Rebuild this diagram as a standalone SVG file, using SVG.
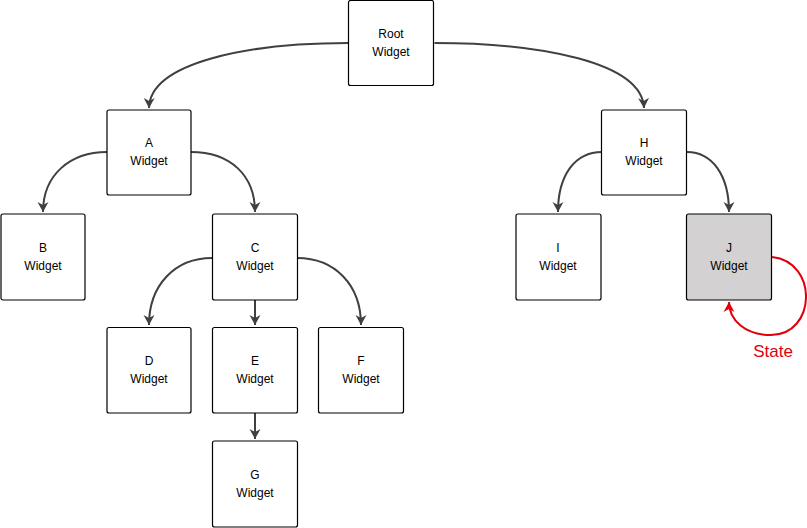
<svg xmlns="http://www.w3.org/2000/svg" width="807" height="528" viewBox="0 0 807 528">
<style>
.node rect{fill:#ffffff;stroke:#000000;stroke-width:1.2}
.node text{font-family:"Liberation Sans",Arial,sans-serif;font-size:12px;fill:#000000;text-anchor:middle}
.conn path{fill:none;stroke:#404040;stroke-width:2}
.conn path.state{stroke:#e0000b}
</style>
<defs>
<marker id="ah" markerUnits="userSpaceOnUse" markerWidth="14" markerHeight="14" viewBox="0 0 14 14" refX="11" refY="7" orient="auto">
<path d="M1,1.5 L11,7 L1,12.5 L4,7 Z" fill="#404040"/>
</marker>
<marker id="ahr" markerUnits="userSpaceOnUse" markerWidth="14" markerHeight="14" viewBox="0 0 14 14" refX="11" refY="7" orient="auto">
<path d="M1,1.5 L11,7 L1,12.5 L4,7 Z" fill="#e0000b"/>
</marker>
</defs>
<rect width="807" height="528" fill="#ffffff"/>
<g id="connectors" class="conn">
<path d="M348.5,43 C250,43 150,62 149,108" marker-end="url(#ah)"/>
<path d="M434.5,43 C540,43 642,62 644,108" marker-end="url(#ah)"/>
<path d="M107,152 C70,152 43,175 43,212" marker-end="url(#ah)"/>
<path d="M191,152 C230,152 255,175 255,212" marker-end="url(#ah)"/>
<path d="M212,258 C175,258 149,285 149,325" marker-end="url(#ah)"/>
<path d="M255,300 L255,325" marker-end="url(#ah)"/>
<path d="M297,258 C335,258 361,285 361,325" marker-end="url(#ah)"/>
<path d="M255,413 L255,439" marker-end="url(#ah)"/>
<path d="M602,152 C575,152 558,175 558,212" marker-end="url(#ah)"/>
<path d="M687,152 C712,152 729,175 729,212" marker-end="url(#ah)"/>
<path class="state" d="M772,257 C819,262 816,335 771,335 C745,335 729,320 729,302" marker-end="url(#ahr)"/>
</g>
<g id="node-root" class="node"><rect x="348.5" y="0.5" width="85" height="85" rx="2"/><text x="391" y="38">Root</text><text x="391" y="56">Widget</text></g>
<g id="node-a" class="node"><rect x="107" y="110" width="84" height="85" rx="2"/><text x="149" y="147">A</text><text x="149" y="165">Widget</text></g>
<g id="node-b" class="node"><rect x="1" y="214" width="84" height="86" rx="2"/><text x="43" y="252">B</text><text x="43" y="270">Widget</text></g>
<g id="node-c" class="node"><rect x="212.5" y="214" width="85" height="86" rx="2"/><text x="255" y="252">C</text><text x="255" y="270">Widget</text></g>
<g id="node-d" class="node"><rect x="107" y="327.5" width="84" height="85.5" rx="2"/><text x="149" y="365">D</text><text x="149" y="383">Widget</text></g>
<g id="node-e" class="node"><rect x="212.5" y="327.5" width="85" height="85.5" rx="2"/><text x="255" y="365">E</text><text x="255" y="383">Widget</text></g>
<g id="node-f" class="node"><rect x="318.5" y="327.5" width="85" height="85.5" rx="2"/><text x="361" y="365">F</text><text x="361" y="383">Widget</text></g>
<g id="node-g" class="node"><rect x="212.5" y="441" width="85" height="86" rx="2"/><text x="255" y="479">G</text><text x="255" y="497">Widget</text></g>
<g id="node-h" class="node"><rect x="601.5" y="110" width="85" height="85" rx="2"/><text x="644" y="147">H</text><text x="644" y="165">Widget</text></g>
<g id="node-i" class="node"><rect x="516" y="214" width="85" height="86" rx="2"/><text x="558" y="252">I</text><text x="558" y="270">Widget</text></g>
<g id="node-j" class="node"><rect x="686.5" y="214" width="85" height="86" rx="2" style="fill:#d3d1d1"/><text x="729" y="252">J</text><text x="729" y="270">Widget</text></g>
<text x="773" y="357" style="font-family:'Liberation Sans',Arial,sans-serif;font-size:17px;fill:#e0000b;text-anchor:middle">State</text>
</svg>
